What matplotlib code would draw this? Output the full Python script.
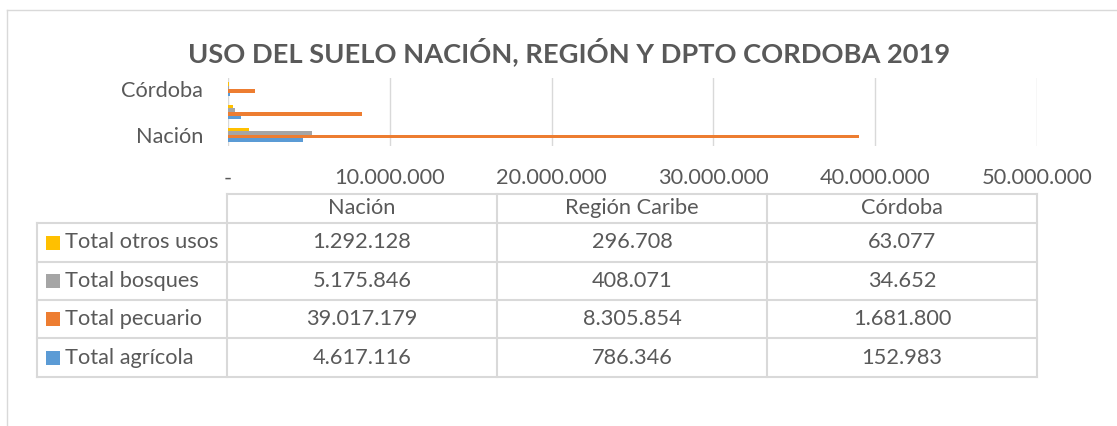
import matplotlib
matplotlib.use("Agg")
import matplotlib.pyplot as plt
from matplotlib.ticker import FuncFormatter
from matplotlib.patches import Rectangle
import numpy as np

# ---------------- data ----------------
categories = ['Nación', 'Región Caribe', 'Córdoba']
series_names = ['Total agrícola', 'Total pecuario', 'Total bosques', 'Total otros usos']
total_agricola = [4617116, 786346, 152983]
total_pecuario = [39017179, 8305854, 1681800]
total_bosques = [5175846, 408071, 34652]
total_otros = [1292128, 296708, 63077]
xticks = [0, 10000000, 20000000, 30000000, 40000000, 50000000]
title = 'USO DEL SUELO NACIÓN, REGIÓN Y DPTO CORDOBA 2019'

colors = ['#5B9BD5', '#ED7D31', '#A5A5A5', '#FFC000']
series = [total_agricola, total_pecuario, total_bosques, total_otros]

W, H = 1117, 426
TXT = '#595959'
GRID = '#D9D9D9'
FONT = ['Lato', 'DejaVu Sans']
plt.rcParams['font.family'] = FONT
FS = 15.7

def fmt(v):
    if v == 0:
        return '-'
    return f'{int(v):,}'.replace(',', '.')

fig = plt.figure(figsize=(W / 100, H / 100), dpi=100)
fig.patch.set_facecolor('white')

# overlay for frame / table / title (pixel coords)
ov = fig.add_axes([0, 0, 1, 1])
ov.set_xlim(0, W)
ov.set_ylim(H, 0)
ov.axis('off')

# frame
ov.plot([7, W], [10, 10], color=GRID, lw=1)
ov.plot([7, 7], [10, H], color=GRID, lw=1)

# title
ov.text(569, 52, title, ha='center', va='center', fontsize=19.6,
        fontweight='bold', color=TXT)

# ---------------- bars ----------------
x0, x1, ytop, ybot = 228, 1037, 78, 146
ax = fig.add_axes([x0 / W, 1 - ybot / H, (x1 - x0) / W, (ybot - ytop) / H])
ypos = np.arange(len(categories))
h = 0.155
n = len(series)
for i, (vals, c) in enumerate(zip(series, colors)):
    off = (i - (n - 1) / 2) * h
    ax.barh(ypos + off, vals, height=h, color=c, zorder=3)
ax.set_ylim(-0.5, len(categories) - 0.5)
ax.set_xlim(0, xticks[-1])
ax.set_xticks(xticks)
ax.xaxis.set_major_formatter(FuncFormatter(lambda v, p: fmt(v)))
ax.set_yticks(ypos)
ax.set_yticklabels([categories[0], '', categories[2]])
ax.grid(axis='x', color=GRID, lw=1, zorder=0)
for s in ax.spines.values():
    s.set_visible(False)
ax.tick_params(axis='x', length=0, pad=16, labelsize=FS, labelcolor=TXT)
ax.tick_params(axis='y', length=0, pad=18, labelsize=FS, labelcolor=TXT)
ax.set_facecolor('none')

# ---------------- data table ----------------
col_edges = [37, 227, 497, 767, 1037]
row_edges = [194, 223, 262, 300, 338, 377]
ov.plot([col_edges[1], col_edges[-1]], [row_edges[0]] * 2, color=GRID, lw=1.5)
for ye in row_edges[1:]:
    ov.plot([col_edges[0], col_edges[-1]], [ye, ye], color=GRID, lw=1.5)
ov.plot([col_edges[0]] * 2, [row_edges[1], row_edges[-1]], color=GRID, lw=1.5)
for xe in col_edges[1:]:
    ov.plot([xe, xe], [row_edges[0], row_edges[-1]], color=GRID, lw=1.5)

# header
for j, cat in enumerate(categories):
    cx = (col_edges[j + 1] + col_edges[j + 2]) / 2
    cy = (row_edges[0] + row_edges[1]) / 2
    ov.text(cx, cy, cat, ha='center', va='center', fontsize=FS, color=TXT)

# rows: top to bottom reversed series order
for r, si in enumerate(range(n - 1, -1, -1)):
    cy = (row_edges[r + 1] + row_edges[r + 2]) / 2
    ov.add_patch(Rectangle((46, cy - 7), 14, 14, color=colors[si], lw=0))
    ov.text(65, cy, series_names[si], ha='left', va='center', fontsize=FS, color=TXT)
    for j in range(len(categories)):
        cx = (col_edges[j + 1] + col_edges[j + 2]) / 2
        ov.text(cx, cy, fmt(series[si][j]), ha='center', va='center',
                fontsize=FS, color=TXT)

fig.savefig('out.png', dpi=100, facecolor='white')
